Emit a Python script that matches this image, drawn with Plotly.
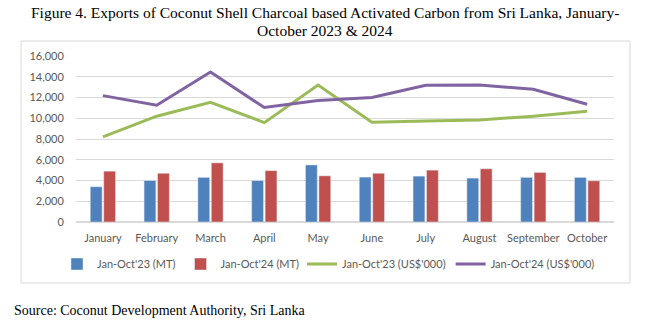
import plotly.graph_objects as go

months = ["January", "February", "March", "April", "May", "June", "July", "August", "September", "October"]
mt_2023 = [3400, 4000, 4300, 4000, 5500, 4330, 4420, 4230, 4300, 4300]
mt_2024 = [4900, 4700, 5700, 4950, 4450, 4700, 5000, 5130, 4780, 3970]
usd_2023 = [8200, 10200, 11540, 9580, 13200, 9620, 9740, 9840, 10200, 10670]
usd_2024 = [12180, 11250, 14450, 11030, 11700, 12000, 13170, 13200, 12800, 11350]
y_ticks = [0, 2000, 4000, 6000, 8000, 10000, 12000, 14000, 16000]

fig = go.Figure()
fig.add_bar(x=months, y=mt_2023, name="Jan-Oct'23 (MT)", marker_color="#4F81BD", legend="legend")
fig.add_bar(x=months, y=mt_2024, name="Jan-Oct'24 (MT)", marker_color="#C0504D", legend="legend")
fig.add_scatter(x=months, y=usd_2023, name="Jan-Oct'23 (US$'000)", mode="lines",
                line=dict(color="#9BBB59", width=3), legend="legend2")
fig.add_scatter(x=months, y=usd_2024, name="Jan-Oct'24 (US$'000)", mode="lines",
                line=dict(color="#8064A2", width=3), legend="legend2")

W, H = 650, 321
l, r, t, b = 76, 36, 56, 99
pw, ph = W - l - r, H - t - b

def px_x(px):
    return (px - l) / pw

def px_y(py):
    return (H - b - py) / ph

AX = "Lato"
leg_font = dict(family=AX, size=11, color="#595959")
fig.update_layout(
    width=W, height=H,
    margin=dict(l=l, r=r, t=t, b=b, autoexpand=False),
    paper_bgcolor="white", plot_bgcolor="white",
    barmode="group", bargap=0.5, bargroupgap=0.12,
    font=dict(family=AX, size=11, color="#595959"),
    showlegend=True,
    legend=dict(orientation="h", x=px_x(57), xanchor="left", y=px_y(264), yanchor="middle",
                font=leg_font, itemwidth=30, tracegroupgap=0, bgcolor="rgba(0,0,0,0)"),
    legend2=dict(orientation="h", x=px_x(302), xanchor="left", y=px_y(264), yanchor="middle",
                 font=leg_font, itemwidth=30, tracegroupgap=0, bgcolor="rgba(0,0,0,0)"),
    xaxis=dict(showgrid=False, showline=False, ticks="outside", ticklen=6,
               tickcolor="rgba(0,0,0,0)",
               tickfont=dict(family=AX, size=11, color="#595959")),
    yaxis=dict(range=[0, 16000], tickvals=y_ticks, tickformat=",", gridcolor="#D9D9D9",
               gridwidth=1, zeroline=True, zerolinecolor="#D9D9D9", showline=False,
               ticks="outside", ticklen=9, tickcolor="rgba(0,0,0,0)",
               tickfont=dict(family=AX, size=11, color="#595959")),
    shapes=[dict(type="rect", xref="paper", yref="paper",
                 x0=px_x(21), x1=px_x(630), y0=px_y(283), y1=px_y(41),
                 line=dict(color="#D9D9D9", width=1), fillcolor="rgba(0,0,0,0)", layer="below")],
    annotations=[
        dict(text="Figure 4. Exports of Coconut Shell Charcoal based Activated Carbon from Sri Lanka, January-",
             xref="paper", yref="paper", x=px_x(325), y=px_y(12), xanchor="center", yanchor="middle",
             showarrow=False, font=dict(family="Liberation Serif", size=15.5, color="#000000")),
        dict(text="October 2023 & 2024",
             xref="paper", yref="paper", x=px_x(325), y=px_y(31), xanchor="center", yanchor="middle",
             showarrow=False, font=dict(family="Liberation Serif", size=15.5, color="#000000")),
        dict(text="Source: Coconut Development Authority, Sri Lanka",
             xref="paper", yref="paper", x=px_x(12), y=px_y(310), xanchor="left", yanchor="middle",
             showarrow=False, font=dict(family="Liberation Serif", size=14, color="#000000")),
    ],
)

fig.write_html("out.html")
